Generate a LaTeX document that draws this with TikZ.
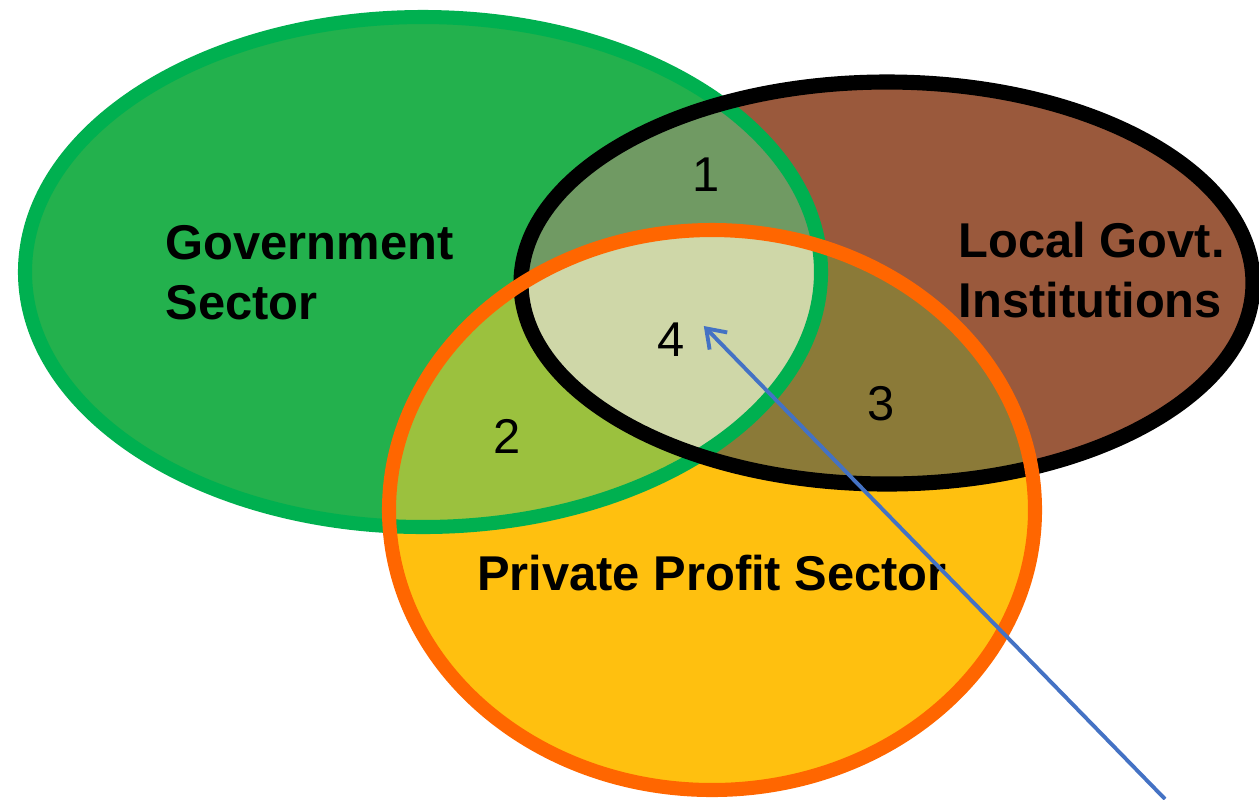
\documentclass[tikz,border=0pt]{standalone}
\usepackage{fontspec}
\setmainfont{Liberation Sans}
\usetikzlibrary{positioning}
\usetikzlibrary{arrows.meta}

\definecolor{govfill}{RGB}{35,177,77}
\definecolor{govline}{RGB}{0,176,80}
\definecolor{localfill}{RGB}{154,89,60}
\definecolor{privfill}{RGB}{255,192,15}
\definecolor{privline}{RGB}{255,102,0}
\definecolor{regionone}{RGB}{112,154,99}
\definecolor{regiontwo}{RGB}{155,193,62}
\definecolor{regionthree}{RGB}{139,122,56}
\definecolor{regionfour}{RGB}{207,215,168}
\definecolor{pointer}{RGB}{68,114,196}

\newcommand{\govshape}{(4.23,-2.72) ellipse [x radius=3.98, y radius=2.55]}
\newcommand{\localshape}{(8.87,-2.83) ellipse [x radius=3.66, y radius=2.01]}
\newcommand{\privshape}{(7.12,-5.10) ellipse [x radius=3.23, y radius=2.80]}

\begin{document}
\begin{tikzpicture}[>={Straight Barb[length=5pt,width=7pt]},
	sector label/.style={font=\fontsize{13.9}{17.1}\selectfont\bfseries,align=left,inner sep=0pt},
	region label/.style={font=\fontsize{13.9}{17.1}\selectfont,inner sep=1pt},
	ring/.style={line width=4pt}]
		
		\useasboundingbox (0,0) rectangle (12.59,-7.99);
		
		% base fills
		\fill[govfill] \govshape;
		\fill[localfill] \localshape;
		\fill[privfill] \privshape;
		
		% overlaps
		\begin{scope}
			\clip \govshape;
			\fill[regionone] \localshape;
			\fill[regiontwo] \privshape;
		\end{scope}
		\begin{scope}
			\clip \localshape;
			\fill[regionthree] \privshape;
		\end{scope}
		\begin{scope}
			\clip \govshape;
			\clip \localshape;
			\fill[regionfour] \privshape;
		\end{scope}
		
		% outlines
		\draw[ring, govline] \govshape;
		\draw[ring, black, line width=4.3pt] \localshape;
		\draw[ring, privline] \privshape;
		
		\node[sector label, anchor=west] at (1.65,-2.73) (gov) {Government\\Sector};
		\node[sector label, anchor=west] at (9.58,-2.70) (local) {Local Govt.\\Institutions};
		\node[sector label] at (7.12,-5.73) (priv) {Private Profit Sector};
		
		\node[region label] at (7.06,-1.75) (n1) {1};
		\node[region label] at (5.07,-4.36) (n2) {2};
		\node[region label] at (8.81,-4.04) (n3) {3};
		\node[region label] at (6.71,-3.40) (n4) {4};
		
		\coordinate (tail) at (11.65,-7.99);
		\coordinate[right = 0.15 cm of n4, yshift=0.14cm] (tip);
		\draw[->, pointer, line width=1.1pt] (tail) -- (tip);
		
		\end{tikzpicture}
\end{document}
